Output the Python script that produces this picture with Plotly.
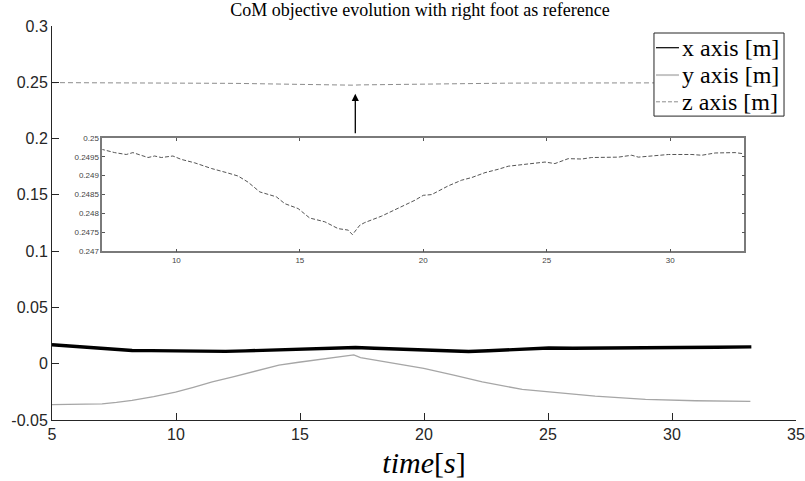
import plotly.graph_objects as go

# ---- data ----
t_x = [5.0, 5.5, 6.08, 6.6, 7.02, 7.6, 8.23, 9.0, 10.0, 11.07, 12.0, 12.8, 13.8, 14.8, 15.6, 16.4, 17.24, 18.0, 18.85, 19.7, 20.46, 21.2, 21.8, 22.6, 23.41, 24.2, 25.03, 26.0, 27.6, 29.0, 30.3, 31.8, 33.2]
v_x = [0.0168, 0.0160, 0.0153, 0.0142, 0.0132, 0.0124, 0.0117, 0.0116, 0.0114, 0.0108, 0.0110, 0.0114, 0.0120, 0.0123, 0.0128, 0.0134, 0.0144, 0.0138, 0.0132, 0.0124, 0.0117, 0.0112, 0.0108, 0.0115, 0.0123, 0.0134, 0.0140, 0.0138, 0.0138, 0.0141, 0.0144, 0.0146, 0.0150]

t_y = [5.0, 6.0, 7.02, 7.6, 8.23, 9.1, 9.98, 10.7, 11.46, 12.3, 13.07, 14.15, 14.95, 16.0, 17.17, 17.44, 18.7, 19.99, 21.2, 22.35, 23.96, 24.9, 25.9, 26.9, 28.93, 30.95, 33.16]
v_y = [-0.0364, -0.0360, -0.0356, -0.0344, -0.0326, -0.0292, -0.0252, -0.0210, -0.0162, -0.0117, -0.0072, -0.0012, 0.0013, 0.0042, 0.0078, 0.0054, 0.0006, -0.0041, -0.0102, -0.0162, -0.0228, -0.0246, -0.0270, -0.0288, -0.0317, -0.0329, -0.0335]

t_z = [5.0, 6.0, 7.02, 7.5, 7.97, 8.24, 8.85, 9.12, 9.39, 9.86, 10.2, 10.74, 11.42, 12.09, 12.5, 12.9, 13.38, 14.05, 14.39, 14.93, 15.4, 16.01, 16.55, 16.96, 17.13, 17.43, 17.63, 18.31, 18.98, 19.66, 20.0, 20.34, 21.01, 21.55, 21.96, 22.5, 23.04, 23.44, 24.25, 24.93, 25.33, 25.87, 26.42, 26.82, 27.9, 28.44, 28.71, 29.39, 29.93, 30.88, 31.28, 31.82, 32.63, 32.97, 33.2]
v_z = [0.24970, 0.24970, 0.24969, 0.24961, 0.24956, 0.24961, 0.24948, 0.24952, 0.24948, 0.24952, 0.24943, 0.24934, 0.24919, 0.24907, 0.24899, 0.24883, 0.24857, 0.24844, 0.24826, 0.24813, 0.24788, 0.24778, 0.24760, 0.24756, 0.24744, 0.24769, 0.24776, 0.24793, 0.24813, 0.24835, 0.24848, 0.24850, 0.24873, 0.24888, 0.24895, 0.24908, 0.24917, 0.24925, 0.24931, 0.24936, 0.24932, 0.24945, 0.24944, 0.24948, 0.24949, 0.24954, 0.24949, 0.24952, 0.24956, 0.24956, 0.24954, 0.24960, 0.24961, 0.24958, 0.24960]

series_names = ["x axis [m]", "y axis [m]", "z axis [m]"]
title_text = "CoM objective evolution with right foot as reference"

main_xticks = [5, 10, 15, 20, 25, 30, 35]
main_yticks = [-0.05, 0, 0.05, 0.1, 0.15, 0.2, 0.25, 0.3]
main_yticktext = ["-0.05", "0", "0.05", "0.1", "0.15", "0.2", "0.25", "0.3"]
inset_xticks = [10, 15, 20, 25, 30]
inset_yticks = [0.247, 0.2475, 0.248, 0.2485, 0.249, 0.2495, 0.25]
inset_yticktext = ["0.247", "0.2475", "0.248", "0.2485", "0.249", "0.2495", "0.25"]

AX = "#262626"
styles = [
    dict(color="black", width=3.4),
    dict(color="#a6a6a6", width=1.3),
    dict(color="#8c8c8c", width=1, dash="5px,3px"),
]
legend_styles = [
    dict(color="black", width=1.2),
    dict(color="#c4c4c4", width=2),
    dict(color="#8c8c8c", width=1, dash="4px,2px"),
]

fig = go.Figure()
for tt, vv, nm, st in zip([t_x, t_y, t_z], [v_x, v_y, v_z], series_names, styles):
    fig.add_trace(go.Scatter(x=tt, y=vv, mode="lines", name=nm, line=st, showlegend=False))
fig.add_trace(go.Scatter(x=t_z, y=v_z, mode="lines", showlegend=False,
                         xaxis="x2", yaxis="y2",
                         line=dict(color="#555555", width=1, dash="4px,2px")))

# arrow pointing from the inset to the z curve minimum
i_min = v_z.index(min(v_z))
fig.add_annotation(x=t_z[i_min] + 0.1, y=0.2398, xref="x", yref="y", ax=0, ay=41,
                   axref="pixel", ayref="pixel", text="", showarrow=True,
                   arrowhead=2, arrowsize=1.1, arrowwidth=1.3, arrowcolor="black")

# legend box drawn by hand (MATLAB style)
lg_x0, lg_x1, lg_y0, lg_y1 = 0.8091, 0.9839, 0.7713, 0.9822
row_y = [0.9449, 0.8755, 0.8076]
fig.add_shape(type="rect", xref="paper", yref="paper", x0=lg_x0, x1=lg_x1, y0=lg_y0, y1=lg_y1,
              line=dict(color=AX, width=1), fillcolor="white", layer="above")
for ry, nm, st in zip(row_y, series_names, legend_styles):
    fig.add_shape(type="line", xref="paper", yref="paper", x0=0.8118, x1=0.8427, y0=ry, y1=ry,
                  line=st, layer="above")
    fig.add_annotation(x=0.8440, y=ry, xref="paper", yref="paper", text=nm, showarrow=False,
                       xanchor="left", yanchor="middle",
                       font=dict(family="Liberation Serif, serif", size=24, color="black"))

tickfont = dict(family="Liberation Sans, Arial, sans-serif", size=16, color=AX)
inset_tickfont = dict(family="Liberation Sans, Arial", size=8, color="#444444")
fig.update_layout(
    width=805, height=481,
    margin=dict(l=52, r=9, t=26, b=61, autoexpand=False),
    paper_bgcolor="white", plot_bgcolor="white",
    showlegend=False,
    title=dict(text=title_text, x=0.4946, xref="paper", xanchor="center", y=0.979, yanchor="middle",
               font=dict(family="Liberation Serif, serif", size=18, color="black")),
    xaxis=dict(range=[5, 35], tickvals=main_xticks, showgrid=False, zeroline=False, automargin=False,
               showline=True, linecolor=AX, linewidth=1, ticks="inside", ticklen=7,
               tickcolor=AX, tickfont=tickfont,
               title=dict(text="<i>time</i>[<i>s</i>]", standoff=9,
                          font=dict(family="Liberation Serif, serif", size=30, color="black"))),
    yaxis=dict(range=[-0.05, 0.3], tickvals=main_yticks, ticktext=main_yticktext, automargin=False,
               showgrid=False, zeroline=False, showline=True, linecolor=AX, linewidth=1,
               ticks="inside", ticklen=7, tickcolor=AX, tickfont=tickfont),
    xaxis2=dict(domain=[0.0676, 0.9305], anchor="y2", range=[7, 33], tickvals=inset_xticks,
                showgrid=False, zeroline=False, showline=True, mirror="allticks",
                linecolor="#7a7a7a", linewidth=1.5, ticks="inside", ticklen=3,
                tickcolor="#555555", tickfont=inset_tickfont),
    yaxis2=dict(domain=[0.4282, 0.7161], anchor="x2", range=[0.247, 0.25],
                tickvals=inset_yticks, ticktext=inset_yticktext,
                showgrid=False, zeroline=False, showline=True, mirror="allticks",
                linecolor="#7a7a7a", linewidth=1.5, ticks="inside", ticklen=3,
                tickcolor="#555555", tickfont=inset_tickfont),
)

fig.write_html("out.html", config={"displayModeBar": False},
               post_script="document.body.style.margin='0';")
